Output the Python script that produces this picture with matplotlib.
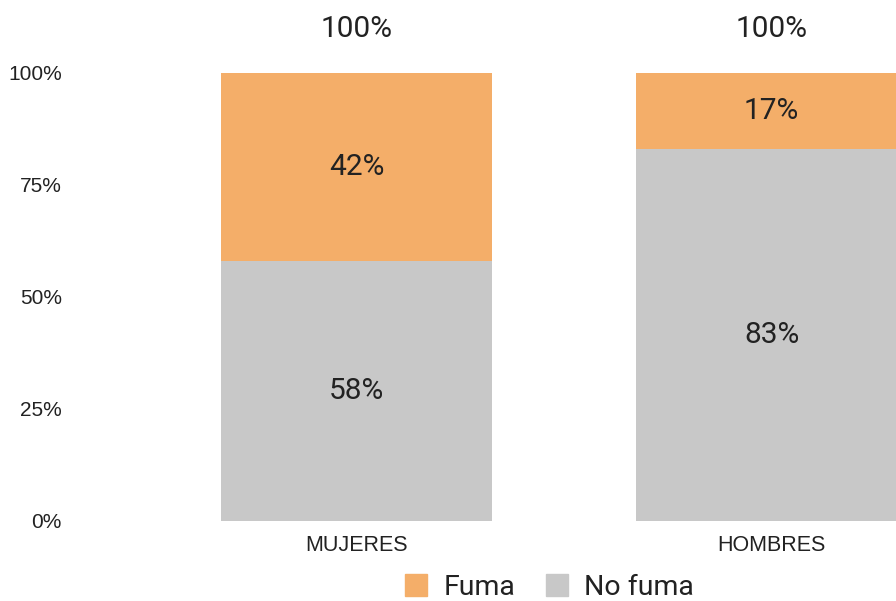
import matplotlib
matplotlib.use("Agg")
import matplotlib.pyplot as plt
from matplotlib.patches import Patch

categories = ["MUJERES", "HOMBRES"]
fuma = [42, 17]
no_fuma = [58, 83]
totals = [100, 100]
yticks = [0, 25, 50, 75, 100]
ytick_labels = ["0%", "25%", "50%", "75%", "100%"]

c_fuma = "#F4AE69"
c_nofuma = "#C8C8C8"

W, H = 896, 601
fig = plt.figure(figsize=(W / 100, H / 100), dpi=100)
left_px, right_px, top_px, bot_px = 70, 896, 73, 521
ax = fig.add_axes([left_px / W, (H - bot_px) / H, (right_px - left_px) / W, (bot_px - top_px) / H])

x = list(range(len(categories)))
bw = 0.653
ax.bar(x, no_fuma, width=bw, color=c_nofuma, linewidth=0)
ax.bar(x, fuma, width=bw, bottom=no_fuma, color=c_fuma, linewidth=0)

lab_font = "Roboto"
lab_size = 21.5
for i in x:
    ax.text(i, no_fuma[i] / 2, f"{no_fuma[i]}%", ha="center", va="center",
            fontsize=lab_size, family=lab_font, color="#222222")
    ax.text(i, no_fuma[i] + fuma[i] / 2, f"{fuma[i]}%", ha="center", va="center",
            fontsize=lab_size, family=lab_font, color="#222222")
    ax.text(i, totals[i] + 9.9, f"{totals[i]}%", ha="center", va="center",
            fontsize=lab_size, family=lab_font, color="#222222", clip_on=False)

ppu = 415.0
ax.set_xlim((left_px - 356.5) / ppu, (right_px - 356.5) / ppu)
ax.set_ylim(0, 100)
ax.set_yticks(yticks)
ax.set_yticklabels(ytick_labels, family="Liberation Sans", fontsize=15, color="#222222")
ax.set_xticks(x)
ax.set_xticklabels(categories, family="Liberation Sans", fontsize=15.5, color="#222222")
ax.tick_params(axis="y", length=0, pad=6)
ax.tick_params(axis="x", length=0, pad=10)
for s in ax.spines.values():
    s.set_visible(False)

handles = [Patch(color=c_fuma, label="Fuma"), Patch(color=c_nofuma, label="No fuma")]
fig.legend(handles=handles, loc="center", bbox_to_anchor=(549.5 / W, (H - 587.5) / H),
           ncol=2, frameon=False, prop={"family": lab_font, "size": 20.5},
           handlelength=0.77, handleheight=0.77, handletextpad=0.56, columnspacing=1.08,
           labelcolor="#222222", borderpad=0.2)

fig.savefig("out.png", dpi=100)
